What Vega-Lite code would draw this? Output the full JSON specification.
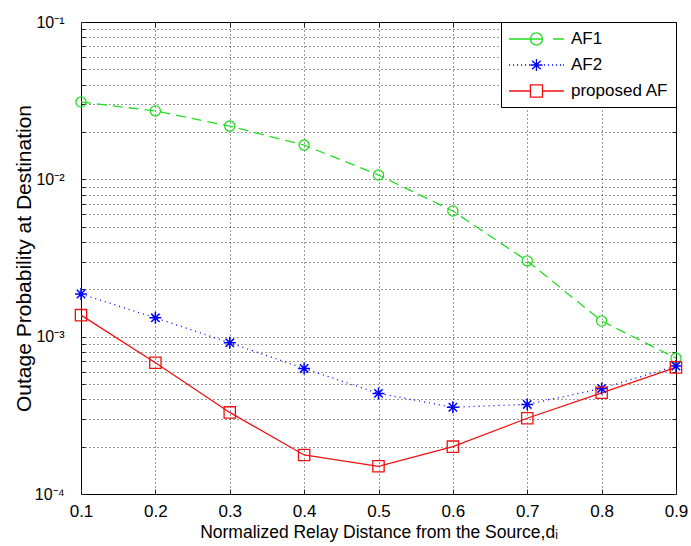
{
  "$schema": "https://vega.github.io/schema/vega-lite/v6.json",
  "width": 595,
  "height": 472,
  "autosize": {"type": "none"},
  "padding": {"left": 81, "top": 22, "right": 15, "bottom": 52},
  "background": "white",
  "config": {
    "font": "Liberation Sans",
    "view": {"stroke": "black", "strokeWidth": 1},
    "axis": {"labelColor": "black", "titleColor": "black", "tickColor": "#222", "titleFontWeight": "normal", "domain": false}
  },
  "data": {
    "values": [
      {"d": 0.1, "s": "AF1", "p": 0.0310},
      {"d": 0.2, "s": "AF1", "p": 0.0272},
      {"d": 0.3, "s": "AF1", "p": 0.0218},
      {"d": 0.4, "s": "AF1", "p": 0.0165},
      {"d": 0.5, "s": "AF1", "p": 0.01065},
      {"d": 0.6, "s": "AF1", "p": 0.00629},
      {"d": 0.7, "s": "AF1", "p": 0.00303},
      {"d": 0.8, "s": "AF1", "p": 0.001257},
      {"d": 0.9, "s": "AF1", "p": 0.000731},
      {"d": 0.1, "s": "AF2", "p": 0.001866},
      {"d": 0.2, "s": "AF2", "p": 0.001318},
      {"d": 0.3, "s": "AF2", "p": 0.000914},
      {"d": 0.4, "s": "AF2", "p": 0.000628},
      {"d": 0.5, "s": "AF2", "p": 0.000436},
      {"d": 0.6, "s": "AF2", "p": 0.000356},
      {"d": 0.7, "s": "AF2", "p": 0.000371},
      {"d": 0.8, "s": "AF2", "p": 0.000469},
      {"d": 0.9, "s": "AF2", "p": 0.00065},
      {"d": 0.1, "s": "proposed AF", "p": 0.00137},
      {"d": 0.2, "s": "proposed AF", "p": 0.000683},
      {"d": 0.3, "s": "proposed AF", "p": 0.00033},
      {"d": 0.4, "s": "proposed AF", "p": 0.000177},
      {"d": 0.5, "s": "proposed AF", "p": 0.000150},
      {"d": 0.6, "s": "proposed AF", "p": 0.000200},
      {"d": 0.7, "s": "proposed AF", "p": 0.000303},
      {"d": 0.8, "s": "proposed AF", "p": 0.00044},
      {"d": 0.9, "s": "proposed AF", "p": 0.000638}
    ]
  },
  "resolve": {"axis": {"x": "independent", "y": "independent"}},
  "encoding": {
    "x": {"field": "d", "type": "quantitative", "scale": {"domain": [0.1, 0.9], "nice": false, "zero": false}, "axis": null},
    "y": {"field": "p", "type": "quantitative", "scale": {"type": "log", "domain": [0.0001, 0.1], "nice": false}, "axis": null}
  },
  "layer": [
    {
      "transform": [{"filter": "datum.s == 'AF1'"}],
      "mark": {"type": "line", "strokeWidth": 1.3, "color": "#22dd22", "strokeDash": [10, 6]},
      "encoding": {
        "x": {
          "field": "d", "type": "quantitative",
          "scale": {"domain": [0.1, 0.9], "nice": false, "zero": false},
          "axis": {
            "orient": "bottom",
            "values": [0.1, 0.2, 0.3, 0.4, 0.5, 0.6, 0.7, 0.8, 0.9],
            "format": ".1f",
            "labelFontSize": 17,
            "labelPadding": 14,
            "tickSize": -5,
            "labelFlush": false,
            "grid": true, "gridColor": "#000", "gridDash": [1, 3], "gridOpacity": 0.8,
            "title": "Normalized Relay Distance from the Source,dᵢ",
            "titleFontSize": 17.5,
            "titlePadding": 4
          }
        },
        "y": {
          "field": "p", "type": "quantitative",
          "scale": {"type": "log", "domain": [0.0001, 0.1], "nice": false},
          "axis": {
            "orient": "left",
            "values": [0.0001, 0.0002, 0.0003, 0.0004, 0.0005, 0.0006, 0.0007, 0.0008, 0.0009, 0.001, 0.002, 0.003, 0.004, 0.005, 0.006, 0.007, 0.008, 0.009, 0.01, 0.02, 0.03, 0.04, 0.05, 0.06, 0.07, 0.08, 0.09, 0.1],
            "labelExpr": "datum.value == 0.1 ? '10⁻¹' : datum.value == 0.01 ? '10⁻²' : datum.value == 0.001 ? '10⁻³' : datum.value == 0.0001 ? '10⁻⁴' : ''",
            "labelFontSize": 16,
            "labelPadding": 21,
            "tickSize": -4,
            "labelFlush": false,
            "labelOverlap": false,
            "grid": true, "gridColor": "#000", "gridDash": [1, 3], "gridOpacity": 0.8,
            "title": "Outage Probability at Destination",
            "titleFontSize": 21,
            "titlePadding": 0
          }
        }
      }
    },
    {
      "transform": [{"filter": "datum.s == 'AF2'"}],
      "mark": {"type": "line", "strokeWidth": 1.3, "color": "#0000ff", "strokeDash": [1, 4]}
    },
    {
      "transform": [{"filter": "datum.s == 'proposed AF'"}],
      "mark": {"type": "line", "strokeWidth": 1.3, "color": "#ee1111"}
    },
    {
      "transform": [{"filter": "datum.s == 'AF1'"}],
      "mark": {"type": "point", "shape": "circle", "size": 104, "filled": false, "strokeWidth": 1.3, "color": "#22dd22", "opacity": 1},
      "encoding": {
        "x": {
          "field": "d", "type": "quantitative",
          "scale": {"domain": [0.1, 0.9], "nice": false, "zero": false},
          "axis": {
            "orient": "top",
            "values": [0.1, 0.2, 0.3, 0.4, 0.5, 0.6, 0.7, 0.8, 0.9],
            "labels": false, "grid": false, "tickSize": -5, "title": null
          }
        },
        "y": {
          "field": "p", "type": "quantitative",
          "scale": {"type": "log", "domain": [0.0001, 0.1], "nice": false},
          "axis": {
            "orient": "right",
            "values": [0.0001, 0.0002, 0.0003, 0.0004, 0.0005, 0.0006, 0.0007, 0.0008, 0.0009, 0.001, 0.002, 0.003, 0.004, 0.005, 0.006, 0.007, 0.008, 0.009, 0.01, 0.02, 0.03, 0.04, 0.05, 0.06, 0.07, 0.08, 0.09, 0.1],
            "labels": false, "grid": false, "tickSize": -4, "title": null
          }
        }
      }
    },
    {
      "transform": [{"filter": "datum.s == 'AF2'"}],
      "mark": {"type": "point", "shape": "M-1,0H1M0,-1V1M-0.7,-0.7L0.7,0.7M-0.7,0.7L0.7,-0.7", "size": 144, "filled": false, "strokeWidth": 1.5, "color": "#0000ff", "opacity": 1}
    },
    {
      "transform": [{"filter": "datum.s == 'proposed AF'"}],
      "mark": {"type": "point", "shape": "square", "size": 128, "filled": false, "strokeWidth": 1.3, "color": "#ee1111", "opacity": 1}
    },
    {
      "transform": [{"filter": "datum.d > 5"}],
      "mark": {"type": "point", "filled": false, "strokeWidth": 1.3, "opacity": 1},
      "encoding": {
        "color": {
          "field": "s", "type": "nominal",
          "scale": {"domain": ["AF1", "AF2", "proposed AF"], "range": ["#22dd22", "#0000ff", "#ee1111"]},
          "legend": {
            "title": null,
            "orient": "top-right",
            "offset": 0,
            "padding": 7,
            "rowPadding": 7,
            "strokeColor": "black",
            "fillColor": "white",
            "cornerRadius": 0,
            "labelFontSize": 17,
            "labelColor": "black",
            "labelOffset": 43,
            "symbolSize": 324,
            "symbolStrokeWidth": 1.3
          }
        },
        "shape": {
          "field": "s", "type": "nominal",
          "scale": {"domain": ["AF1", "AF2", "proposed AF"], "range": [
            "M-1,0H1.38M1.38,0H2.72M3.9,0H5.1M2.72,0A0.67,0.67 0 1 1 1.38,0A0.67,0.67 0 1 1 2.72,0",
            "M-1,0h0.12M-0.556,0h0.12M-0.111,0h0.12M0.333,0h0.12M0.778,0h0.12M1.222,0h0.12M2.889,0h0.12M3.333,0h0.12M3.778,0h0.12M4.222,0h0.12M4.667,0h0.12M5,0h0.1M1.38,0H2.72M2.05,-0.67V0.67M1.58,-0.47L2.52,0.47M1.58,0.47L2.52,-0.47",
            "M-1,0H1.38M2.72,0H5.1M1.38,-0.67H2.72V0.67H1.38Z"
          ]},
          "legend": {
            "title": null,
            "orient": "top-right",
            "offset": 0,
            "padding": 7,
            "rowPadding": 7,
            "strokeColor": "black",
            "fillColor": "white",
            "cornerRadius": 0,
            "labelFontSize": 17,
            "labelColor": "black",
            "labelOffset": 43,
            "symbolSize": 324,
            "symbolStrokeWidth": 1.3
          }
        }
      }
    }
  ]
}
